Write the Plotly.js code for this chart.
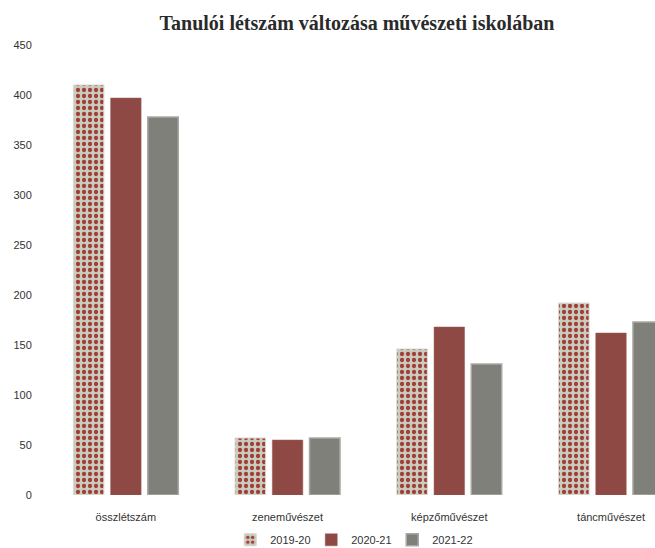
<!DOCTYPE html>
<html>
<head>
<meta charset="utf-8">
<script src="https://cdn.plot.ly/plotly-3.0.1.min.js"></script>
<style>html,body{margin:0;padding:0;background:#fff;}#chart{width:655px;height:548px;}</style>
</head>
<body>
<div id="chart"></div>
<script>
const categories = ["összlétszám", "zeneművészet", "képzőművészet", "táncművészet"];
const seriesNames = ["2019-20", "2020-21", "2021-22"];
const values2019 = [410, 57, 146, 192];
const values2020 = [397, 55, 168, 162];
const values2021 = [378, 57, 131, 173];
const yTicks = [0, 50, 100, 150, 200, 250, 300, 350, 400, 450];

const traces = [
  {
    type: "bar", name: seriesNames[0], x: categories, y: values2019,
    marker: {
      color: "#c9cdbf",
      line: {color: "#d8dbd1", width: 1},
      pattern: {shape: ".", fgcolor: "#a23d37", bgcolor: "#c9cdbf", size: 6, solidity: 0.4}
    }
  },
  {
    type: "bar", name: seriesNames[1], x: categories, y: values2020,
    marker: {color: "#8e4944", line: {color: "#9a5a55", width: 0.5}}
  },
  {
    type: "bar", name: seriesNames[2], x: categories, y: values2021,
    marker: {color: "#80807b", line: {color: "#a9a9a4", width: 1.5}}
  }
];

const layout = {
  width: 655, height: 548,
  margin: {l: 45, r: 0, t: 45, b: 53},
  paper_bgcolor: "#ffffff", plot_bgcolor: "#ffffff",
  barmode: "group", bargap: 0.31, bargroupgap: 0.18,
  title: {
    text: "<b>Tanulói létszám változása művészeti iskolában</b>",
    font: {family: "Liberation Serif, DejaVu Serif, serif", size: 20, color: "#2a2a2a"},
    x: 0.545, xanchor: "center", y: 0.958, yanchor: "middle", xref: "container", yref: "container"
  },
  xaxis: {
    type: "category", range: [-0.5, 3.272],
    showline: false, showgrid: false, zeroline: false,
    tickfont: {family: "Liberation Sans, Arial, sans-serif", size: 11, color: "#333"},
    ticks: "outside", ticklen: 12, tickcolor: "rgba(0,0,0,0)"
  },
  yaxis: {
    range: [0, 450], tickvals: yTicks,
    showline: false, showgrid: false, zeroline: false,
    tickfont: {family: "Liberation Sans, Arial, sans-serif", size: 11, color: "#333"},
    ticks: "outside", ticklen: 10, tickcolor: "rgba(0,0,0,0)"
  },
  showlegend: true,
  legend: {
    orientation: "h", x: 0.537, xanchor: "center", y: 0.015, yanchor: "middle",
    xref: "container", yref: "container",
    font: {family: "Liberation Sans, Arial, sans-serif", size: 11, color: "#333"},
    itemwidth: 30, entrywidth: 36, traceorder: "normal"
  }
};

Plotly.newPlot("chart", traces, layout, {displayModeBar: false, staticPlot: true});
</script>
</body>
</html>
